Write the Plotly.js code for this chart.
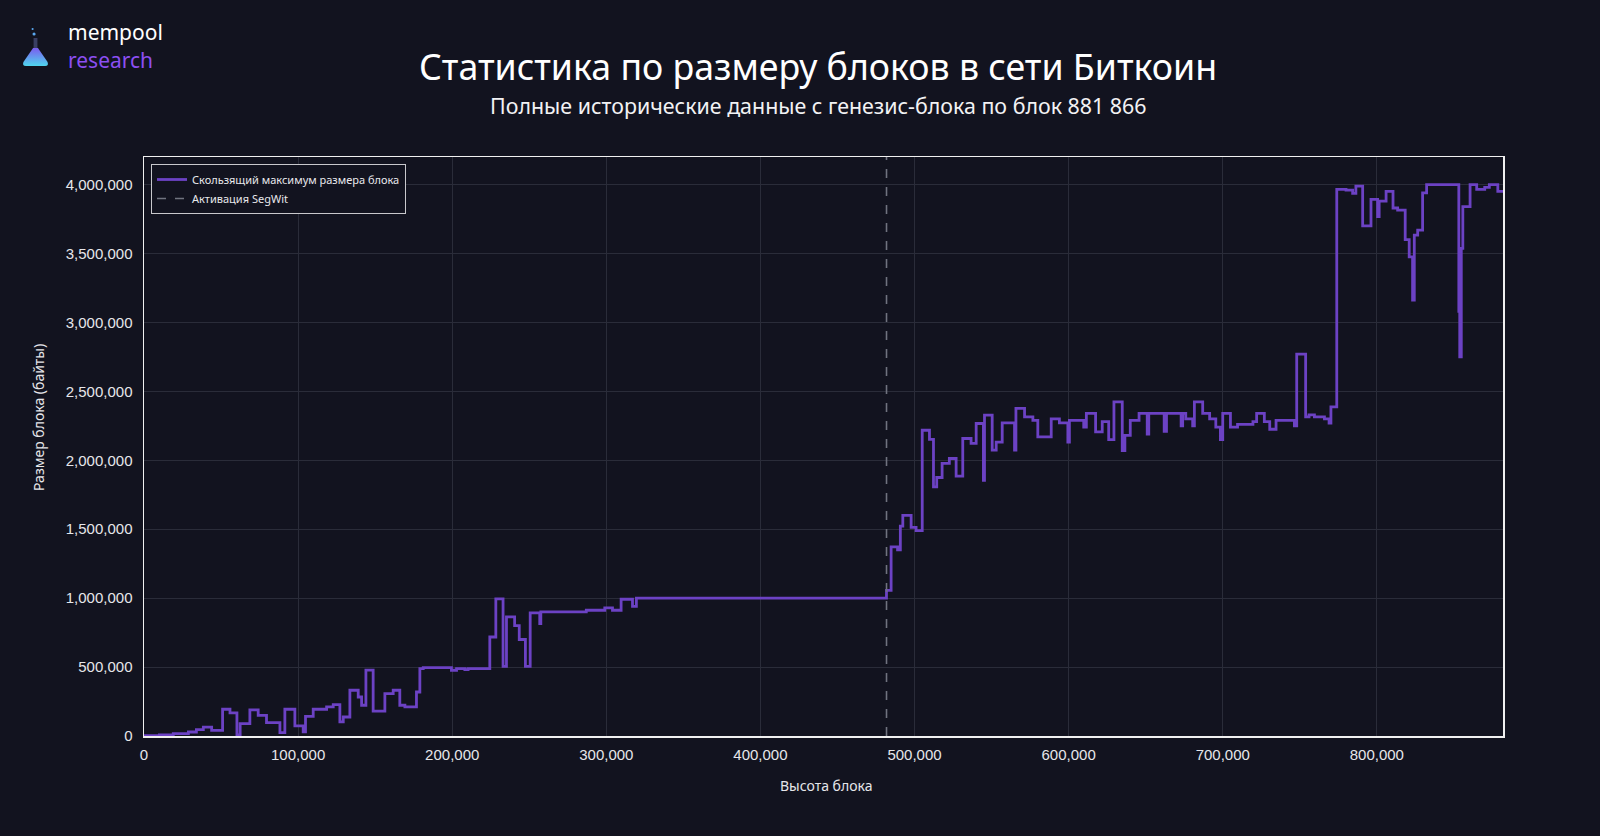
<!DOCTYPE html>
<html>
<head>
<meta charset="utf-8">
<script src="https://cdn.plot.ly/plotly-3.0.1.min.js"></script>
<style>
  html, body { margin: 0; padding: 0; background: #12131f; }
  #chart { width: 1600px; height: 836px; }
</style>
</head>
<body>
<div id="chart"></div>
<script>
// ---- Data ----
const blockHeights = [
  0, 10000, 19000, 28800, 34000, 38500, 43900, 51000, 55800, 60300,
  62400, 68700, 74100, 79500, 88200, 91400, 97900, 103300, 104800, 109800,
  118500, 122800, 127100, 129300, 133600, 139000, 141200, 144000, 148700, 156300,
  161700, 166000, 169300, 176800, 179000, 181200, 199500, 202800, 208200, 210300,
  224400, 228300, 233000, 235200, 240500, 243500, 247500, 250600, 256800, 257500,
  287000, 299000, 304000, 309600, 317000, 319500, 481800, 484800, 489000, 490800,
  492400, 497800, 501000, 505000, 509700, 512300, 514400, 517900, 522600, 527000,
  531300, 536700, 540000, 544700, 545400, 550400, 553000, 556900, 564900, 565800,
  571400, 576800, 580000, 588700, 594000, 599500, 600500, 609800, 611500, 617500,
  621800, 626000, 629400, 634800, 636500, 640000, 645700, 651000, 652000, 662000,
  663500, 673000, 674000, 676000, 680500, 681600, 687000, 691500, 695500, 698500,
  700000, 705000, 709600, 719600, 722000, 727000, 730500, 734600, 746500, 748000,
  753800, 756000, 759500, 766000, 769000, 770200, 774000, 780000, 784300, 786400,
  790800, 796200, 800500, 801500, 806000, 810500, 813500, 818400, 821000, 823200,
  824300, 826500, 829700, 832300, 853200, 853800, 854800, 855800, 860500, 864800,
  870000, 873000, 878500, 881866
];
const maxBlockSize = [
  3000, 8000, 17000, 29000, 46000, 65000, 41000, 194000, 168000, 8000,
  90000, 190000, 150000, 97000, 25000, 194000, 73000, 30000, 143000, 194000,
  211000, 228000, 102000, 138000, 332000, 283000, 223000, 478000, 181000, 308000,
  332000, 223000, 211000, 319000, 489000, 496000, 477000, 489000, 482000, 489000,
  718000, 995000, 505000, 864000, 800000, 700000, 505000, 893000, 815000, 900000,
  912000, 929000, 912000, 992000, 940000, 1000000, 1057000, 1372000, 1350000, 1522000,
  1601000, 1514000, 1490000, 2218000, 2151000, 1807000, 1875000, 1977000, 2013000, 1885000,
  2158000, 2122000, 2267000, 1855000, 2327000, 2073000, 2132000, 2272000, 2073000, 2376000,
  2315000, 2290000, 2170000, 2300000, 2272000, 2132000, 2290000, 2240000, 2340000, 2206000,
  2280000, 2150000, 2424000, 2070000, 2180000, 2290000, 2340000, 2190000, 2340000, 2210000,
  2340000, 2250000, 2340000, 2300000, 2250000, 2424000, 2340000, 2300000, 2240000, 2150000,
  2340000, 2240000, 2260000, 2280000, 2340000, 2280000, 2225000, 2290000, 2250000, 2770000,
  2315000, 2330000, 2315000, 2300000, 2270000, 2388000, 3965000, 3960000, 3936000, 3989000,
  3700000, 3893000, 3767000, 3880000, 3950000, 3830000, 3815000, 3600000, 3476000, 3162000,
  3634000, 3670000, 3940000, 4000000, 3080000, 2750000, 3537000, 3840000, 4000000, 3965000,
  3980000, 4000000, 3950000, 3950000
];
const segwitHeight = 481824;
const xRange = [0, 881866];
const yRange = [0, 4200000];

const seriesName = 'Скользящий максимум размера блока';
const segwitName = 'Активация SegWit';
const titleText = 'Статистика по размеру блоков в сети Биткоин';
const subtitleText = 'Полные исторические данные с генезис-блока по блок 881 866';
const xTitleText = 'Высота блока';
const yTitleText = 'Размер блока (байты)';
const logoTop = 'mempool';
const logoBottom = 'research';

// ---- Styles ----
const BG = '#12131f';
const LINE = '#6c42c4';
const GRID = '#2a2c39';
const TICKFONT = {family: '"Liberation Sans", Arial, sans-serif', size: 15, color: '#e6e6ea'};
const TEXTFONT = '"Noto Sans", "Open Sans", sans-serif';

const flaskSvg = '<svg xmlns="http://www.w3.org/2000/svg" viewBox="0 0 28 40">' +
  '<defs><linearGradient id="g" x1="0" y1="0" x2="0" y2="1">' +
  '<stop offset="0" stop-color="#7b5cf0"/><stop offset="1" stop-color="#4fd6ee"/></linearGradient></defs>' +
  '<circle cx="11" cy="2" r="1.1" fill="#5aa8f0"/>' +
  '<circle cx="12.5" cy="7" r="1.6" fill="#5aa8f0"/>' +
  '<rect x="12" y="11" width="4" height="11" fill="#3a3f63"/>' +
  '<path d="M11.5 21 L16.5 21 L26.5 35 Q28 39 24 39 L4 39 Q0 39 1.5 35 Z" fill="url(#g)"/>' +
  '</svg>';
const flaskSrc = 'data:image/svg+xml;base64,' + btoa(flaskSvg);

const traces = [
  {
    x: blockHeights,
    y: maxBlockSize,
    type: 'scatter',
    mode: 'lines',
    line: {shape: 'hv', color: LINE, width: 2.8},
    name: seriesName
  },
  {
    x: [segwitHeight, segwitHeight],
    y: yRange,
    type: 'scatter',
    mode: 'lines',
    line: {color: '#70737f', width: 1.6, dash: 'dash'},
    name: segwitName
  }
];

const L = 144, R = 1503, T = 157, B = 736;
const pw = R - L, ph = B - T;
const px = v => (v - L) / pw;
const py = v => (B - v) / ph;

const layout = {
  width: 1600,
  height: 836,
  paper_bgcolor: BG,
  plot_bgcolor: BG,
  margin: {l: L, r: 1600 - R, t: T, b: 836 - B},
  showlegend: true,
  legend: {
    x: px(151), y: py(164), xanchor: 'left', yanchor: 'top',
    bgcolor: BG, bordercolor: '#c8c8cc', borderwidth: 1,
    font: {family: TEXTFONT, size: 11, color: '#e8e8ec'},
    itemwidth: 30, tracegroupgap: 2
  },
  xaxis: {
    range: xRange,
    dtick: 100000,
    tickformat: ',d',
    showgrid: true, gridcolor: GRID, gridwidth: 1,
    zeroline: false,
    showline: true, linecolor: '#f0f0f0', linewidth: 1.5, mirror: true,
    ticks: '', ticklabelstandoff: 4,
    tickfont: TICKFONT
  },
  yaxis: {
    range: yRange,
    dtick: 500000,
    tickformat: ',d',
    showgrid: true, gridcolor: GRID, gridwidth: 1,
    zeroline: false,
    showline: true, linecolor: '#f0f0f0', linewidth: 1.5, mirror: true,
    ticks: '', ticklabelstandoff: 7,
    tickfont: TICKFONT
  },
  images: [{
    source: flaskSrc,
    xref: 'paper', yref: 'paper',
    x: px(22), y: py(27), sizex: 27 / pw, sizey: 40 / ph,
    xanchor: 'left', yanchor: 'top', sizing: 'stretch', layer: 'above'
  }],
  annotations: [
    {text: titleText, xref: 'paper', yref: 'paper', x: px(818), y: py(66),
     xanchor: 'center', yanchor: 'middle', showarrow: false,
     font: {family: TEXTFONT, size: 35.7, color: '#ffffff'}},
    {text: subtitleText, xref: 'paper', yref: 'paper', x: px(818), y: py(105),
     xanchor: 'center', yanchor: 'middle', showarrow: false,
     font: {family: TEXTFONT, size: 21.4, color: '#f2f2f4'}},
    {text: xTitleText, xref: 'paper', yref: 'paper', x: px(826), y: py(785),
     xanchor: 'center', yanchor: 'middle', showarrow: false,
     font: {family: TEXTFONT, size: 14, color: '#e6e6ea'}},
    {text: yTitleText, xref: 'paper', yref: 'paper', x: px(38), y: py(418),
     xanchor: 'center', yanchor: 'middle', showarrow: false, textangle: -90,
     font: {family: TEXTFONT, size: 14, color: '#e6e6ea'}},
    {text: logoTop, xref: 'paper', yref: 'paper', x: px(66), y: py(32),
     xanchor: 'left', yanchor: 'middle', showarrow: false,
     font: {family: '"Noto Sans", sans-serif', size: 21, color: '#ffffff'}},
    {text: logoBottom, xref: 'paper', yref: 'paper', x: px(66), y: py(60),
     xanchor: 'left', yanchor: 'middle', showarrow: false,
     font: {family: '"Noto Sans", sans-serif', size: 21, color: '#8c4ff2'}}
  ]
};

Plotly.newPlot('chart', traces, layout, {displayModeBar: false, staticPlot: true});
</script>
</body>
</html>
